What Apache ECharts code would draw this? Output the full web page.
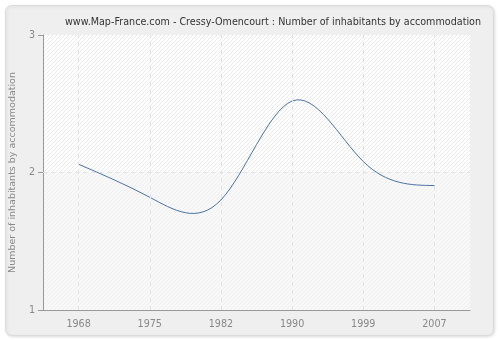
<!DOCTYPE html>
<html><head><meta charset="utf-8">
<script src="https://cdn.jsdelivr.net/npm/echarts@6/dist/echarts.min.js"></script>
<style>html,body{margin:0;padding:0;background:#fff}#c{width:500px;height:340px}</style>
</head><body><div id="c"></div>
<script>
const title = 'www.Map-France.com - Cressy-Omencourt : Number of inhabitants by accommodation';
const yAxisName = 'Number of inhabitants by accommodation';
const years = ['1968', '1975', '1982', '1990', '1999', '2007'];
const values = [2.06, 1.82, 1.80, 2.52, 2.08, 1.905];
const yTicks = [1, 2, 3];

function hatch(bg, line) {
  const c = document.createElement('canvas');
  c.width = 4; c.height = 4;
  const g = c.getContext('2d');
  g.fillStyle = bg; g.fillRect(0, 0, 4, 4);
  g.strokeStyle = line; g.lineWidth = 1;
  g.beginPath();
  g.moveTo(0, 4); g.lineTo(4, 0);
  g.moveTo(-1, 1); g.lineTo(1, -1);
  g.moveTo(3, 5); g.lineTo(5, 3);
  g.stroke();
  return { image: c, repeat: 'repeat' };
}

// natural cubic spline through pixel points -> slope at each point
function splineSlopes(pts) {
  const n = pts.length;
  const h = [], M = new Array(n).fill(0);
  for (let i = 0; i < n - 1; i++) h.push(pts[i + 1][0] - pts[i][0]);
  const a = [], b = [], c = [], d = [];
  for (let i = 1; i < n - 1; i++) {
    a.push(h[i - 1]); b.push(2 * (h[i - 1] + h[i])); c.push(h[i]);
    d.push(6 * ((pts[i + 1][1] - pts[i][1]) / h[i] - (pts[i][1] - pts[i - 1][1]) / h[i - 1]));
  }
  const m = b.length;
  for (let i = 1; i < m; i++) {
    const w = a[i] / b[i - 1];
    b[i] -= w * c[i - 1]; d[i] -= w * d[i - 1];
  }
  const sol = new Array(m);
  for (let i = m - 1; i >= 0; i--) sol[i] = (d[i] - (i < m - 1 ? c[i] * sol[i + 1] : 0)) / b[i];
  for (let i = 0; i < m; i++) M[i + 1] = sol[i];
  const s = [];
  for (let i = 0; i < n - 1; i++) {
    s.push((pts[i + 1][1] - pts[i][1]) / h[i] - h[i] * (2 * M[i] + M[i + 1]) / 6);
  }
  const k = n - 2;
  s.push((pts[k + 1][1] - pts[k][1]) / h[k] + h[k] * (M[k] + 2 * M[k + 1]) / 6);
  return s;
}

const chart = echarts.init(document.getElementById('c'), null, { renderer: 'canvas' });
const gridLines = years.map(y => ({ xAxis: y }));
gridLines.push({ yAxis: 2 });

chart.setOption({
  animation: false,
  backgroundColor: '#ffffff',
  graphic: [{
    type: 'rect', z: -10, silent: true,
    shape: { x: 5.5, y: 5.5, width: 488, height: 330, r: 6 },
    style: { fill: '#efefef', stroke: '#dcdcdc', lineWidth: 1,
             shadowBlur: 3, shadowColor: 'rgba(0,0,0,0.12)', shadowOffsetX: 1, shadowOffsetY: 1 }
  }],
  title: {
    text: title, left: 60, top: 12,
    textStyle: { fontFamily: 'DejaVu Sans', fontSize: 9.6, fontWeight: 'normal', color: '#333' }
  },
  grid: { left: 40, right: 30, top: 35, bottom: 30, containLabel: false },
  xAxis: {
    type: 'category', data: years, boundaryGap: true,
    axisLine: { lineStyle: { color: '#999' } },
    axisTick: { alignWithLabel: true, length: 5, lineStyle: { color: '#999' } },
    axisLabel: { color: '#888', fontFamily: 'DejaVu Sans', fontSize: 9.6, margin: 9 },
    splitLine: { show: false }
  },
  yAxis: {
    type: 'value', min: 1, max: 3, interval: 1,
    name: yAxisName, nameLocation: 'middle', nameGap: 25,
    nameTextStyle: { color: '#888', fontFamily: 'DejaVu Sans', fontSize: 9.5 },
    axisLine: { show: true, lineStyle: { color: '#999' } },
    axisTick: { show: true, length: 5, lineStyle: { color: '#999' } },
    axisLabel: { color: '#888', fontFamily: 'DejaVu Sans', fontSize: 9.6, margin: 8,
                 formatter: v => yTicks.includes(v) ? String(v) : '' },
    splitLine: { show: false },
    splitArea: { show: true, areaStyle: { color: [hatch('#f8f8f8', '#f0f0f0'), hatch('#ffffff', '#ebebeb')] } }
  },
  series: [{
    type: 'line', data: values, symbol: 'none', lineStyle: { opacity: 0 },
    markLine: {
      silent: true, symbol: ['none', 'none'], label: { show: false },
      lineStyle: { color: '#e2e2e2', type: [4, 4], width: 1 },
      data: gridLines
    },
    z: 1
  }, {
    type: 'custom', z: 3,
    data: values.map((v, i) => [i, v]),
    renderItem: function (params, api) {
      const i = params.dataIndex;
      if (i >= values.length - 1) return null;
      const pts = values.map((v, k) => api.coord([k, v]));
      const sl = splineSlopes(pts);
      const h = (pts[i + 1][0] - pts[i][0]) / 3;
      return {
        type: 'bezierCurve',
        shape: { x1: pts[i][0], y1: pts[i][1], x2: pts[i + 1][0], y2: pts[i + 1][1],
                 cpx1: pts[i][0] + h, cpy1: pts[i][1] + sl[i] * h,
                 cpx2: pts[i + 1][0] - h, cpy2: pts[i + 1][1] - sl[i + 1] * h },
        style: { stroke: '#4a73a8', lineWidth: 1, fill: null }
      };
    }
  }]
});
</script></body></html>
